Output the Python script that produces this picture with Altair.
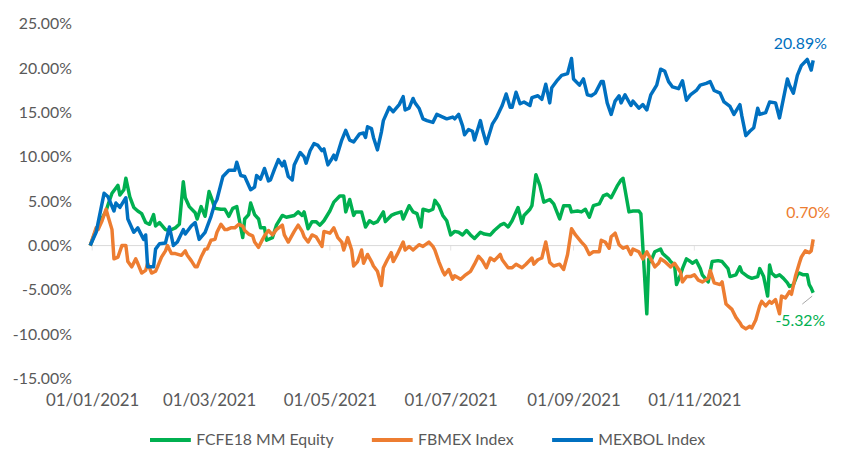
import altair as alt
import pandas as pd

series_names = ["FCFE18 MM Equity", "FBMEX Index", "MEXBOL Index"]
series_colors = ["#00B050", "#ED7D31", "#0070C0"]

# day offsets counted from 31/12/2020, values in %
fcfe_days = [0, 3, 6, 8, 9, 11, 13, 14, 15, 17,
             18, 20, 22, 24, 26, 28, 30, 32, 33, 35,
             38, 40, 43, 45, 47, 48, 50, 53, 54, 56,
             58, 60, 61, 63, 66, 68, 70, 72, 74, 77,
             78, 80, 81, 83, 85, 86, 88, 89, 92, 94,
             97, 99, 103, 105, 107, 108, 110, 112, 114, 116,
             118, 121, 123, 126, 128, 129, 131, 133, 134, 137,
             139, 141, 143, 145, 148, 149, 152, 154, 157, 158,
             161, 163, 165, 167, 168, 171, 173, 174, 176, 178,
             180, 182, 184, 186, 188, 190, 192, 194, 197, 199,
             202, 204, 207, 209, 211, 213, 216, 218, 219, 222,
             223, 225, 227, 229, 232, 234, 237, 239, 242, 243,
             246, 248, 250, 252, 254, 257, 259, 261, 263, 266,
             268, 269, 272, 274, 277, 278, 281, 282, 283, 285,
             288, 289, 292, 293, 295, 296, 298, 299, 301, 303,
             304, 306, 308, 309, 312, 314, 317, 319, 322, 323,
             326, 328, 329, 332, 334, 337, 338, 340, 342, 343,
             344, 346, 348, 350, 352, 353, 355, 357, 358, 360,
             362, 363, 364, 365]
fcfe_vals = [0.0, 1.8, 3.1, 3.9, 4.6, 5.9, 6.5, 6.8, 5.7, 6.3,
             7.6, 5.5, 4.3, 3.9, 3.6, 2.6, 2.4, 3.5, 2.2, 2.6,
             1.8, 1.7, 2.0, 2.4, 7.2, 5.4, 4.4, 3.7, 3.0, 4.4,
             3.3, 6.1, 5.5, 4.2, 4.1, 4.1, 3.3, 4.2, 4.4, 0.9,
             3.0, 3.5, 4.8, 3.5, 3.0, 2.0, 2.0, 0.6, 0.9, 2.3,
             3.4, 3.2, 3.4, 3.8, 3.4, 3.8, 1.9, 2.7, 2.7, 2.3,
             2.8, 3.9, 4.9, 5.6, 5.6, 3.8, 5.2, 3.4, 3.8, 3.8,
             2.1, 2.8, 2.5, 2.7, 3.8, 2.7, 3.4, 3.6, 3.8, 3.0,
             4.5, 3.8, 3.6, 2.1, 4.1, 3.9, 4.1, 5.1, 4.5, 3.4,
             2.8, 1.2, 1.6, 1.5, 1.2, 1.7, 1.2, 0.8, 1.5, 1.3,
             1.2, 1.7, 2.3, 2.5, 2.1, 2.8, 4.3, 2.5, 3.4, 4.1,
             4.5, 8.0, 6.8, 4.9, 5.2, 4.7, 3.0, 4.5, 4.5, 3.8,
             3.9, 3.8, 4.1, 3.2, 4.5, 4.7, 5.6, 5.8, 5.4, 6.7,
             7.4, 7.6, 3.8, 3.9, 3.9, 3.6, -7.7, -1.5, -1.8, -0.7,
             -0.4, -0.9, -1.5, -1.8, -2.2, -4.4, -3.3, -2.6, -1.5, -1.8,
             -2.0, -1.7, -2.6, -3.3, -4.1, -1.8, -1.7, -1.8, -2.6, -3.5,
             -3.3, -2.4, -3.0, -3.5, -3.7, -3.5, -2.6, -3.5, -5.7, -2.2,
             -3.1, -3.5, -3.3, -3.7, -4.2, -4.6, -4.4, -3.3, -3.1, -3.3,
             -3.3, -4.4, -4.8, -5.32]

fbmex_days = [0, 3, 4, 6, 8, 9, 11, 12, 14, 16,
              18, 19, 21, 23, 24, 26, 28, 29, 31, 33,
              34, 36, 38, 39, 41, 43, 46, 48, 49, 51,
              53, 54, 56, 58, 59, 61, 63, 64, 66, 68,
              69, 71, 73, 75, 77, 78, 80, 82, 83, 85,
              87, 88, 90, 92, 94, 97, 98, 100, 103, 105,
              107, 108, 110, 112, 114, 117, 118, 121, 123, 125,
              127, 128, 130, 132, 133, 135, 137, 138, 140, 142,
              143, 145, 147, 148, 150, 152, 153, 155, 158, 159,
              161, 163, 166, 168, 171, 173, 174, 176, 178, 179,
              181, 183, 184, 187, 189, 192, 194, 196, 198, 200,
              202, 204, 207, 208, 211, 213, 215, 218, 220, 223,
              224, 226, 228, 230, 232, 234, 237, 239, 241, 243,
              245, 248, 250, 252, 254, 257, 258, 260, 262, 263,
              265, 267, 269, 271, 273, 274, 277, 279, 281, 283,
              285, 287, 288, 290, 293, 295, 298, 299, 301, 303,
              305, 307, 309, 312, 313, 315, 318, 319, 321, 323,
              324, 326, 328, 329, 331, 333, 334, 336, 338, 339,
              341, 343, 344, 346, 348, 349, 351, 353, 354, 356,
              358, 359, 361, 363, 364, 365]
fbmex_vals = [0.0, 2.0, 1.8, 2.8, 4.1, 3.3, 1.8, -1.5, -1.3, 0.0,
              0.0, -1.8, -2.4, -1.5, -2.0, -3.1, -2.8, -2.0, -3.1, -2.9,
              -2.4, -1.3, -0.6, 0.0, -0.9, -0.9, -1.1, -0.6, -1.1, -1.7,
              -2.4, -2.4, -1.3, -0.4, -0.4, 0.6, 0.7, 1.5, 2.4, 1.8,
              1.8, 2.0, 2.0, 2.4, 2.2, 1.7, 1.3, 1.1, 0.4, -0.2,
              0.7, 1.1, 1.7, 1.2, 1.8, 2.3, 1.2, 0.4, 1.6, 2.3,
              1.6, 1.0, 0.4, 1.2, 1.0, -0.1, 1.6, 1.4, 2.0, 0.9,
              0.4, -0.5, 0.9, -0.5, -2.3, -1.8, -0.5, -2.0, -1.0, -1.8,
              -2.3, -2.9, -4.5, -2.5, -1.6, -0.8, -1.8, -1.0, 0.4, -0.5,
              -0.1, -0.5, 0.1, -0.1, 0.4, -0.1, -0.5, -1.8, -2.9, -3.3,
              -2.7, -3.8, -3.4, -3.8, -3.4, -2.9, -2.1, -1.2, -1.7, -2.5,
              -1.4, -1.7, -1.0, -1.6, -2.5, -2.5, -2.1, -2.5, -2.1, -1.4,
              -2.1, -1.6, -1.4, 0.4, -1.9, -2.3, -2.1, -2.7, -1.0, 1.9,
              1.2, 0.4, -0.1, -1.0, -0.7, -0.7, 0.6, 0.4, -0.3, 1.0,
              1.4, 0.1, -0.3, -0.1, -1.0, -0.4, -0.7, -1.5, -0.7, -1.5,
              -2.4, -2.0, -1.5, -1.8, -2.4, -2.0, -3.0, -4.1, -3.5, -3.5,
              -3.3, -3.9, -4.1, -3.7, -2.8, -4.2, -4.4, -4.1, -6.6, -7.0,
              -7.2, -8.1, -8.7, -9.1, -9.4, -9.1, -9.3, -8.4, -6.8, -6.3,
              -6.8, -6.3, -6.5, -6.1, -7.7, -5.7, -5.9, -5.2, -5.5, -3.5,
              -2.0, -1.3, -0.6, -0.8, -0.6, 0.70]

mexbol_days = [0, 3, 7, 9, 12, 13, 15, 18, 19, 22,
               24, 27, 28, 29, 32, 33, 35, 38, 40, 42,
               44, 47, 48, 51, 53, 55, 58, 61, 63, 64,
               67, 70, 73, 74, 76, 78, 81, 83, 84, 86,
               88, 90, 91, 93, 95, 97, 98, 100, 102, 103,
               106, 108, 109, 111, 113, 115, 117, 118, 120, 122,
               123, 124, 127, 129, 131, 133, 134, 136, 138, 139,
               140, 142, 143, 145, 147, 148, 151, 153, 156, 158,
               159, 161, 163, 164, 166, 168, 170, 173, 175, 178,
               180, 183, 184, 186, 188, 189, 191, 193, 194, 197,
               198, 200, 203, 205, 208, 210, 212, 213, 215, 217,
               219, 222, 223, 226, 228, 230, 232, 233, 236, 238,
               241, 243, 244, 247, 249, 251, 253, 255, 258, 259,
               261, 263, 265, 267, 268, 270, 273, 274, 277, 279,
               281, 283, 286, 288, 290, 292, 294, 297, 299, 301,
               303, 306, 308, 311, 313, 315, 318, 320, 323, 325,
               328, 329, 331, 333, 335, 337, 338, 341, 343, 346,
               348, 350, 352, 353, 355, 357, 359, 362, 364, 365]
mexbol_vals = [0.0, 1.5, 5.9, 5.5, 3.9, 4.8, 4.3, 5.4, 3.0, 1.5,
               2.0, 0.7, 1.2, -2.4, -2.4, -0.4, 0.2, 0.3, 2.1, 0.0,
               0.4, 1.8, 1.3, 2.2, 2.6, 0.7, 1.5, 3.3, 4.8, 5.2,
               7.8, 8.5, 8.5, 9.4, 7.9, 7.8, 6.3, 6.6, 7.9, 7.5,
               8.7, 7.3, 7.4, 8.6, 9.7, 9.0, 9.5, 7.8, 7.4, 9.1,
               10.5, 10.0, 9.3, 10.7, 11.5, 11.3, 10.7, 10.9, 9.1, 9.8,
               10.2, 9.7, 11.9, 13.0, 11.9, 11.7, 12.0, 12.6, 12.7, 12.2,
               13.4, 13.2, 12.2, 10.8, 12.8, 14.1, 15.6, 15.1, 15.9, 16.8,
               15.3, 15.5, 16.6, 16.1, 15.5, 14.3, 14.1, 13.9, 14.8, 14.5,
               14.3, 14.5, 14.3, 14.8, 13.5, 12.5, 13.1, 12.9, 11.9, 14.1,
               13.1, 11.5, 13.7, 14.4, 15.8, 17.1, 15.6, 15.6, 17.3, 16.0,
               16.2, 15.8, 16.7, 16.9, 16.5, 18.2, 16.1, 17.8, 18.7, 19.2,
               19.4, 21.1, 18.8, 18.1, 18.8, 17.0, 16.9, 17.2, 18.5, 18.5,
               16.1, 14.8, 16.3, 16.9, 16.1, 17.0, 15.8, 16.3, 15.5, 15.9,
               15.3, 17.0, 18.1, 19.9, 19.7, 18.5, 17.9, 17.7, 18.6, 16.4,
               17.0, 17.5, 18.1, 18.3, 18.5, 17.5, 17.2, 16.2, 15.7, 14.8,
               15.9, 14.6, 12.4, 12.9, 13.3, 15.5, 14.8, 15.0, 16.2, 16.1,
               14.4, 16.6, 18.8, 18.1, 17.2, 19.2, 20.3, 21.0, 19.8, 20.89]

end_labels = ["-5.32%", "0.70%", "20.89%"]
leader_days = [364.5, 359.5]
leader_vals = [-5.7, -6.6]
tick_months = [1, 3, 5, 7, 9, 11]

base = pd.Timestamp("2020-12-31")
FONT = "Lato"
GREY = "#595959"


def frame(name, days, vals):
    return pd.DataFrame({
        "date": [base + pd.Timedelta(days=d) for d in days],
        "value": vals,
        "series": name,
    })


frames = [frame(series_names[0], fcfe_days, fcfe_vals),
          frame(series_names[1], fbmex_days, fbmex_vals),
          frame(series_names[2], mexbol_days, mexbol_vals)]

x_enc = alt.X(
    "date:T",
    title=None,
    scale=alt.Scale(domain=[alt.DateTime(year=2020, month=12, date=31),
                            alt.DateTime(year=2022, month=1, date=1)],
                    nice=False, padding=0),
    axis=alt.Axis(
        values=[alt.DateTime(year=2021, month=m, date=1) for m in tick_months],
        format="%d/%m/%Y", domain=False, ticks=False, grid=False,
        labelFontSize=17, labelColor=GREY, labelFont=FONT,
        labelPadding=14, labelOverlap=False, labelFlush=False,
    ),
)
y_enc = alt.Y(
    "value:Q",
    title=None,
    scale=alt.Scale(domain=[-15, 25], nice=False, zero=False),
    axis=alt.Axis(
        values=list(range(-15, 30, 5)),
        labelExpr="replace(format(datum.value, '.2f'), '\u2212', '-') + '%'",
        domain=False, ticks=False, grid=False,
        labelFontSize=16, labelColor=GREY, labelFont=FONT, labelPadding=19,
    ),
)

color_enc = alt.Color(
    "series:N",
    scale=alt.Scale(domain=series_names, range=series_colors),
    legend=alt.Legend(
        orient="none", legendX=58, legendY=397, direction="horizontal",
        title=None, symbolType="stroke", symbolStrokeWidth=4, symbolSize=1700,
        labelFontSize=16, labelColor=GREY, labelFont=FONT, labelOffset=3,
        columnPadding=30, padding=0,
    ),
)

zero_df = pd.DataFrame({"value": [0]})
zero_rule = alt.Chart(zero_df).mark_rule(color="#D9D9D9", strokeWidth=1).encode(y=y_enc)

tick_df = pd.DataFrame({"date": [pd.Timestamp(2021, m, 1) for m in tick_months], "value": 0})
ticks = alt.Chart(tick_df).mark_tick(orient="vertical", size=5, thickness=1,
                                     color="#D9D9D9", yOffset=2.5).encode(x=x_enc, y=y_enc)

lines = [
    alt.Chart(f).mark_line(strokeWidth=3.5, strokeJoin="round").encode(x=x_enc, y=y_enc, color=color_enc)
    for f in frames
]

leader_df = pd.DataFrame({
    "date": [base + pd.Timedelta(days=leader_days[0])],
    "value": [leader_vals[0]],
    "date2": [base + pd.Timedelta(days=leader_days[1])],
    "value2": [leader_vals[1]],
})
leader = alt.Chart(leader_df).mark_rule(color="#A6A6A6", strokeWidth=1).encode(
    x=x_enc, y=y_enc, x2="date2:T", y2="value2:Q")

offsets = [(-13, 29), (-5, -27), (-13, -17)]
texts = []
for i, f in enumerate(frames):
    last = f.tail(1).assign(label=end_labels[i])
    dx, dy = offsets[i]
    texts.append(
        alt.Chart(last).mark_text(color=series_colors[i], fontSize=16, font=FONT,
                                  align="center", baseline="middle", dx=dx, dy=dy)
        .encode(x=x_enc, y=y_enc, text="label:N")
    )

chart = alt.layer(zero_rule, ticks, *lines, leader, *texts).properties(
    width=732, height=358,
    autosize=alt.AutoSizeParams(type="none"),
    padding={"left": 83, "top": 14, "right": 18, "bottom": 68},
).configure_view(stroke=None)

chart.save("out.html", embed_options={"renderer": "svg", "actions": False})
